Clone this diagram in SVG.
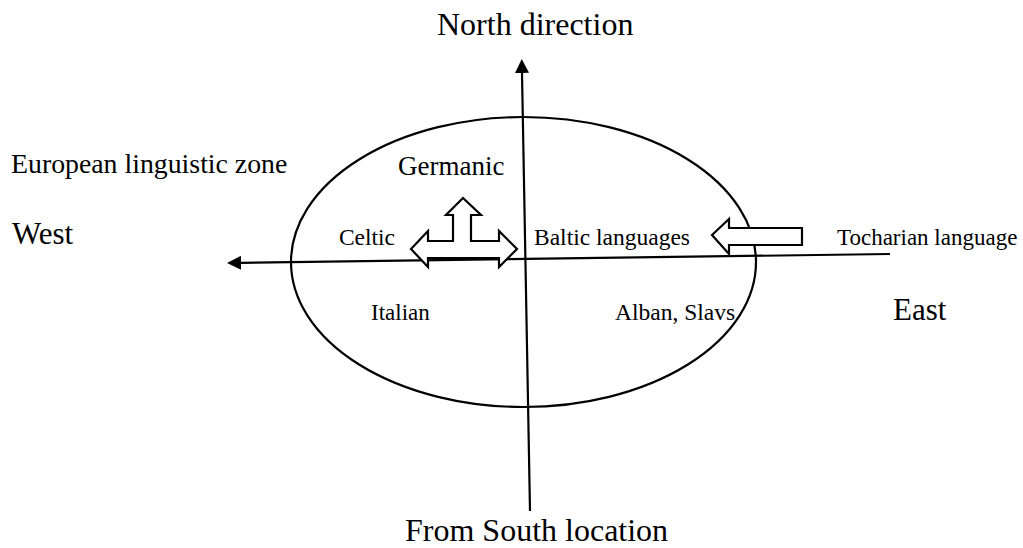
<svg xmlns="http://www.w3.org/2000/svg" width="1023" height="548" viewBox="0 0 1023 548">
  <style>
    .lbl { font-family: "Liberation Serif", "Times New Roman", serif; fill: #000; }
    .axis { stroke: #000; stroke-width: 2.2; fill: none; }
    .blk { fill: #fff; stroke: #000; stroke-width: 2.2; stroke-linejoin: miter; }
  </style>
  <defs>
    <marker id="ah" viewBox="0 0 10 10" refX="0" refY="5" markerUnits="userSpaceOnUse" markerWidth="14" markerHeight="14" orient="auto">
      <path d="M0,0 L10,5 L0,10 z" fill="#000"/>
    </marker>
  </defs>
  <rect width="1023" height="548" fill="#fff"/>

  <g id="zone">
    <ellipse cx="523.5" cy="262" rx="232.5" ry="145" fill="none" stroke="#000" stroke-width="2.2"/>
  </g>

  <g id="connectors">
    <line class="axis" x1="530" y1="511" x2="522" y2="73" marker-end="url(#ah)"/>
    <line class="axis" x1="890" y1="254" x2="241" y2="262.8" marker-end="url(#ah)"/>
  </g>

  <g id="spread-arrow">
    <polygon class="blk" points="411,249 428,231 428,241 453,241 453,215 446,215 463,198 481,215 471,215 471,241 499,241 499,231 517,249 499,267 499,258 428,258 428,267"/>
  </g>
  <g id="tocharian-arrow">
    <polygon class="blk" points="712,235 729,219 729,228 802,228 802,245 729,245 729,254"/>
  </g>

  <g id="north"><text class="lbl" x="437" y="35" font-size="32">North direction</text></g>
  <g id="south"><text class="lbl" x="405" y="541" font-size="32">From South location</text></g>
  <g id="west"><text class="lbl" x="12" y="244" font-size="31">West</text></g>
  <g id="east"><text class="lbl" x="893" y="320" font-size="31">East</text></g>
  <g id="european"><text class="lbl" x="11" y="173" font-size="27.8">European linguistic zone</text></g>
  <g id="germanic"><text class="lbl" x="398" y="175" font-size="27">Germanic</text></g>
  <g id="celtic"><text class="lbl" x="395" y="245" font-size="23.5" text-anchor="end">Celtic</text></g>
  <g id="baltic"><text class="lbl" x="534" y="245" font-size="23.5">Baltic languages</text></g>
  <g id="tocharian"><text class="lbl" x="837" y="245" font-size="23">Tocharian language</text></g>
  <g id="italian"><text class="lbl" x="371" y="320" font-size="23">Italian</text></g>
  <g id="alban"><text class="lbl" x="615" y="320" font-size="23.5">Alban, Slavs</text></g>
</svg>
